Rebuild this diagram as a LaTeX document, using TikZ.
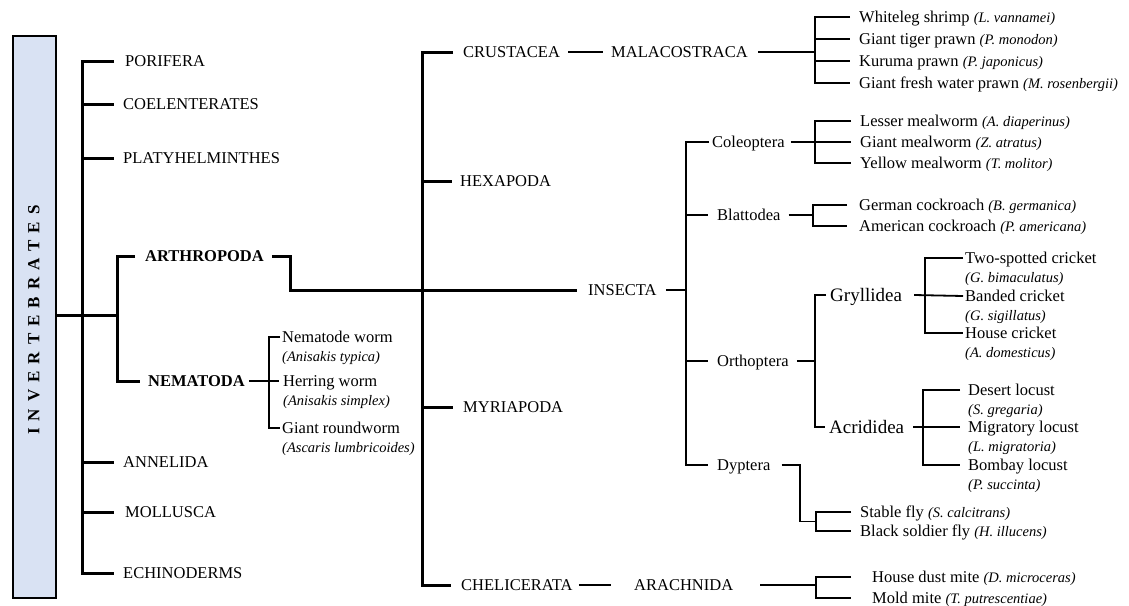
\documentclass[tikz,border=0pt]{standalone}
\usepackage{fontspec}
\setmainfont{Liberation Serif}
\usetikzlibrary{calc}
\definecolor{boxfill}{HTML}{D9E2F3}
\newcommand\lt[1]{{\fontsize{14.5}{17}\selectfont\itshape(#1)}}
\tikzset{
  lbl/.style={anchor=west, inner sep=0pt, font=\fontsize{16.5}{18}\selectfont, text height=11pt, text depth=0pt},
  blbl/.style={lbl, font=\fontsize{16.5}{18}\selectfont\bfseries},
  biglbl/.style={lbl, font=\fontsize{19}{21}\selectfont, text height=13pt},
  latn/.style={anchor=west, inner sep=0pt, font=\fontsize{14.5}{17}\selectfont\itshape, text height=10pt, text depth=0pt},
  thk/.style={line width=3pt},
  thn/.style={line width=1.8pt},
}
\begin{document}
\begin{tikzpicture}[x=1pt,y=-1pt]
\useasboundingbox (0,0) rectangle (1129,605);
% box
\node[draw, line width=1.8pt, fill=boxfill, minimum width=43pt, minimum height=562pt, inner sep=0pt, anchor=north west] (inv) at (12,35) {};
\node[rotate=90, font=\fontsize{17}{18}\selectfont\bfseries] (invt) at (34,320) {I\hspace{7pt}N\hspace{7pt}V\hspace{7pt}E\hspace{7pt}R\hspace{7pt}T\hspace{7pt}E\hspace{7pt}B\hspace{7pt}R\hspace{7pt}A\hspace{7pt}T\hspace{7pt}E\hspace{7pt}S};
% first level
\node[lbl] (por) at (125,61) {PORIFERA};
\node[lbl] (coe) at (123,104) {COELENTERATES};
\node[lbl] (pla) at (123,158) {PLATYHELMINTHES};
\node[blbl] (arth) at (145,256) {ARTHROPODA};
\node[blbl] (nem) at (148,381) {NEMATODA};
\node[lbl] (ann) at (123,462) {ANNELIDA};
\node[lbl] (mol) at (125,512) {MOLLUSCA};
\node[lbl] (ech) at (123,573) {ECHINODERMS};
\coordinate (tL) at (82,0);
\coordinate (tA) at (117,0);
\draw[thk] ([xshift=-11pt]por.west) -| (tL |- ech.west) -- ([xshift=-9pt]ech.west);
\draw[thk] (tL |- coe.west) -- ([xshift=-9pt]coe.west);
\draw[thk] (tL |- pla.west) -- ([xshift=-9pt]pla.west);
\draw[thk] (tL |- ann.west) -- ([xshift=-9pt]ann.west);
\draw[thk] (tL |- mol.west) -- ([xshift=-11pt]mol.west);
\draw[thk] (inv.east |- 0,315) -- (tA |- 0,315);
\draw[thk] ([xshift=-10pt]arth.west) -| (tA |- nem.west) -- ([xshift=-8pt]nem.west);
% nematoda
\node[lbl] (nw) at (282,337) {Nematode worm};
\node[latn] (nwl) at (282,356) {(Anisakis typica)};
\node[lbl] (hw) at (283,381) {Herring worm};
\node[latn] (hwl) at (283,400) {(Anisakis simplex)};
\node[lbl] (gr) at (282,428) {Giant roundworm};
\node[latn] (grl) at (282,447) {(Ascaris lumbricoides)};
\coordinate (bN) at (269,0);
\draw[thn] ([xshift=-2pt]nw.west) -| (bN |- gr.west) -- ([xshift=-2pt]gr.west);
\draw[thn] ([xshift=4pt]nem.east) -- ([xshift=-4pt]hw.west);
% arthropoda
\node[lbl] (cru) at (463,52) {CRUSTACEA};
\node[lbl] (hex) at (460,181) {HEXAPODA};
\node[lbl] (myr) at (463,407) {MYRIAPODA};
\node[lbl] (che) at (461,585) {CHELICERATA};
\node[lbl] (ins) at (588,290) {INSECTA};
\coordinate (tB) at (422,0);
\draw[thk] ([xshift=8pt]arth.east) -| (290,290) -- ([xshift=-11pt]ins.west);
\draw[thk] ([xshift=-10pt]cru.west) -| (tB |- che.west) -- ([xshift=-10pt]che.west);
\draw[thk] (tB |- hex.west) -- ([xshift=-8pt]hex.west);
\draw[thk] (tB |- myr.west) -- ([xshift=-10pt]myr.west);
% crustacea
\node[lbl] (mal) at (611,52) {MALACOSTRACA};
\draw[thn] ([xshift=8pt]cru.east) -- ([xshift=-8pt]mal.west);
\node[lbl] (wls) at (859,17) {Whiteleg shrimp \lt{L. vannamei}};
\node[lbl] (gtp) at (859,39) {Giant tiger prawn \lt{P. monodon}};
\node[lbl] (kp) at (859,61) {Kuruma prawn \lt{P. japonicus}};
\node[lbl] (gfw) at (859,83) {Giant fresh water prawn \lt{M. rosenbergii}};
\coordinate (bC) at (815,0);
\draw[thn] ([xshift=-9pt]wls.west) -| (bC |- gfw.west) -- ([xshift=-9pt]gfw.west);
\draw[thn] (bC |- gtp.west) -- ([xshift=-9pt]gtp.west);
\draw[thn] (bC |- kp.west) -- ([xshift=-9pt]kp.west);
\draw[thn] ([xshift=10pt]mal.east) -- (bC |- mal.east);
% insecta
\node[lbl] (col) at (712,142) {Coleoptera};
\node[lbl] (bla) at (717,215) {Blattodea};
\node[lbl] (ort) at (717,361) {Orthoptera};
\node[lbl] (dyp) at (717,465) {Dyptera};
\coordinate (bI) at (686,0);
\draw[thn] ([xshift=-3pt]col.west) -| (bI |- dyp.west) -- ([xshift=-9pt]dyp.west);
\draw[thn] (bI |- bla.west) -- ([xshift=-9pt]bla.west);
\draw[thn] (bI |- ort.west) -- ([xshift=-9pt]ort.west);
\draw[thn] ([xshift=9pt]ins.east) -- (bI |- ins.east);
% coleoptera
\node[lbl] (lm) at (860,121) {Lesser mealworm \lt{A. diaperinus}};
\node[lbl] (gm) at (860,142) {Giant mealworm \lt{Z. atratus}};
\node[lbl] (ym) at (860,163) {Yellow mealworm \lt{T. molitor}};
\coordinate (bCo) at (815,0);
\draw[thn] ([xshift=-9pt]lm.west) -| (bCo |- ym.west) -- ([xshift=-9pt]ym.west);
\draw[thn] ([xshift=6pt]col.east) -- ([xshift=-9pt]gm.west);
% blattodea
\node[lbl] (gc) at (859,205) {German cockroach \lt{B. germanica}};
\node[lbl] (ac) at (859,226) {American cockroach \lt{P. americana}};
\coordinate (bBl) at (813,0);
\draw[thn] ([xshift=-12pt]gc.west) -| (bBl |- ac.west) -- ([xshift=-12pt]ac.west);
\draw[thn] ([xshift=8pt]bla.east) -- (bBl |- bla.east);
% orthoptera
\node[biglbl] (gry) at (830,295) {Gryllidea};
\node[biglbl] (acr) at (829,427) {Acrididea};
\coordinate (bO) at (815,0);
\draw[thn] ([xshift=-4pt]gry.west) -| (bO |- acr.west) -- ([xshift=-4pt]acr.west);
\draw[thn] ([xshift=8pt]ort.east) -- (bO |- ort.east);
% gryllidea
\node[lbl] (tsc) at (965,258) {Two-spotted cricket};
\node[latn] (tscl) at (965,277) {(G. bimaculatus)};
\node[lbl] (bc) at (965,296) {Banded cricket};
\node[latn] (bcl) at (965,315) {(G. sigillatus)};
\node[lbl] (hc) at (965,333) {House cricket};
\node[latn] (hcl) at (965,352) {(A. domesticus)};
\coordinate (bG) at (925,0);
\draw[thn] ([xshift=-2pt]tsc.west) -| (bG |- hc.west) -- ([xshift=-2pt]hc.west);
\draw[thn] ([xshift=12pt]gry.east) -- ([xshift=-2pt]bc.west);
% acrididea
\node[lbl] (dl) at (968,390) {Desert locust};
\node[latn] (dll) at (968,409) {(S. gregaria)};
\node[lbl] (ml) at (968,427) {Migratory locust};
\node[latn] (mll) at (968,446) {(L. migratoria)};
\node[lbl] (bl) at (968,465) {Bombay locust};
\node[latn] (bll) at (968,484) {(P. succinta)};
\coordinate (bAc) at (923,0);
\draw[thn] ([xshift=-8pt]dl.west) -| (bAc |- bl.west) -- ([xshift=-8pt]bl.west);
\draw[thn] ([xshift=9pt]acr.east) -- ([xshift=-8pt]ml.west);
% dyptera
\node[lbl] (sf) at (860,512) {Stable fly \lt{S. calcitrans}};
\node[lbl] (bsf) at (860,531) {Black soldier fly \lt{H. illucens}};
\coordinate (dX) at (800,0);
\coordinate (bD) at (816,0);
\coordinate (fm) at ($(sf.west)!0.5!(bsf.west)$);
\draw[thn] ([xshift=-9pt]sf.west) -| (bD |- bsf.west) -- ([xshift=-9pt]bsf.west);
\draw[thn] ([xshift=11pt]dyp.east) -| (dX |- fm) -- (bD |- fm);
% chelicerata
\node[lbl] (ara) at (634,585) {ARACHNIDA};
\draw[thn] ([xshift=6pt]che.east) -- ([xshift=-23pt]ara.west);
\node[lbl] (hdm) at (872,577) {House dust mite \lt{D. microceras}};
\node[lbl] (mm) at (872,598) {Mold mite \lt{T. putrescentiae}};
\coordinate (bM) at (816,0);
\draw[thn] ([xshift=-21pt]hdm.west) -| (bM |- mm.west) -- ([xshift=-21pt]mm.west);
\draw[thn] ([xshift=27pt]ara.east) -- (bM |- ara.east);
\end{tikzpicture}
\end{document}
